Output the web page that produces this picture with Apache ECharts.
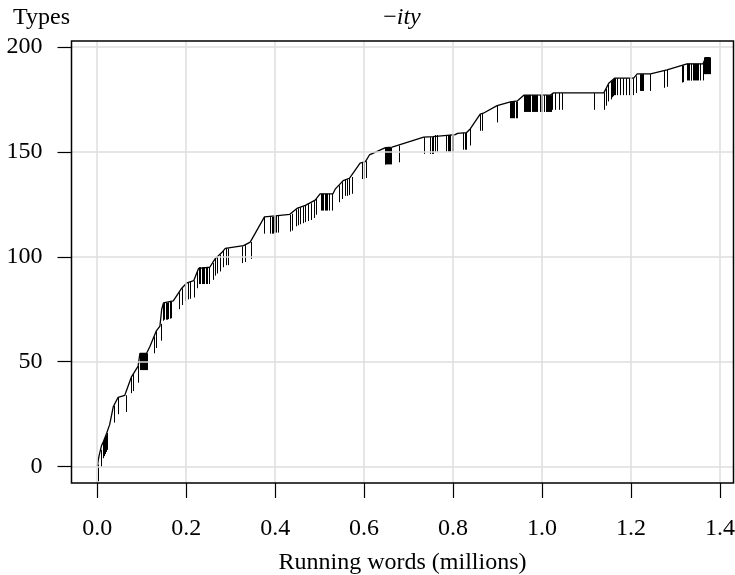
<!DOCTYPE html>
<html><head><meta charset="utf-8">
<script src="https://cdn.jsdelivr.net/npm/echarts@6/dist/echarts.min.js"></script>
<style>html,body{margin:0;padding:0;background:#fff}#c{width:735px;height:575px}</style>
</head><body><div id="c"></div>
<script>
// Vocabulary growth curve of -ity (types vs running words, millions)
const curveX = [0,0.004,0.0097,0.014,0.021,0.028,0.036,0.047,0.062,0.077,0.092,0.096,0.111,0.118,0.133,0.141,0.145,0.149,0.171,0.19,0.202,0.217,0.228,0.253,0.265,0.28,0.288,0.329,0.344,0.376,0.4,0.433,0.449,0.468,0.49,0.501,0.53,0.535,0.553,0.567,0.591,0.603,0.612,0.648,0.663,0.734,0.755,0.758,0.805,0.81,0.83,0.839,0.861,0.868,0.899,0.929,0.945,0.959,1.019,1.026,1.139,1.15,1.163,1.206,1.214,1.244,1.281,1.326,1.362,1.368,1.377];
const curveY = [0,5,10,12,15.8,20,28.5,33,34,42.8,47.9,54,54,57,64.7,67,75,78,79,85,87.6,88.6,94.5,95,99,102,104,105.3,107,119,119.5,120.2,123,124.5,127,130,130,132.2,136.3,137.4,144.6,145.3,148.5,152,152.2,157,157.2,158,158.2,158.8,159.1,161,168,168.4,172,173.8,174.3,177,177.1,178.1,178.1,182.7,185.1,185.1,187.1,187.1,189,191.9,191.9,194.9,194.9];

// rug marks hanging from the curve: position and top value
const tickX = [0.001,0.008,0.014,0.016,0.018,0.020,0.022,0.038,0.047,0.064,0.077,0.080,0.092,
 0.097,0.099,0.101,0.103,0.105,0.107,0.109,0.111,0.127,0.133,0.143,
 0.148,0.151,0.154,0.157,0.160,0.163,0.167,0.185,0.190,0.198,0.203,0.209,0.217,0.224,
 0.229,0.232,0.235,0.238,0.241,0.244,0.247,0.251,0.260,0.264,0.269,0.277,0.283,0.289,0.295,
 0.325,0.333,0.345,0.376,0.388,0.393,0.395,0.398,0.400,0.402,0.407,0.433,0.437,0.448,0.451,
 0.457,0.462,0.467,0.475,0.481,0.487,0.493,0.502,0.505,0.508,0.511,0.514,0.517,0.520,0.528,
 0.543,0.550,0.556,0.561,0.567,0.573,0.595,0.600,0.605,
 0.646,0.648,0.650,0.652,0.654,0.656,0.658,0.661,0.679,0.734,0.748,0.752,0.755,0.760,0.765,
 0.785,0.788,0.791,0.794,0.798,0.801,0.823,0.827,0.830,0.839,0.860,0.866,0.899,
 0.929,0.931,0.933,0.935,0.937,0.941,0.944,
 0.960,0.962,0.964,0.966,0.968,0.970,0.972,0.974,0.978,0.980,0.982,0.984,0.986,0.989,
 0.995,0.997,0.999,1.001,1.004,1.008,1.010,1.012,1.014,1.016,1.018,1.020,1.023,1.030,1.038,1.045,
 1.118,1.139,1.144,1.149,1.154,1.156,1.158,1.160,1.162,1.164,1.169,1.175,1.182,1.188,1.195,1.204,1.211,
 1.220,1.222,1.224,1.226,1.228,1.243,1.275,1.282,1.315,1.318,
 1.326,1.329,1.331,1.334,1.336,1.339,1.341,1.344,1.346,1.349,1.351,1.356,1.362,
 1.365,1.367,1.369,1.371,1.373,1.375,1.377];
const tickTop = [1,8,12,13,14,15,16,29,33,34,43,44,48,
 54,54,54,54,54,54,54,54,62,64.5,68,
 77.5,78,78,78,78.3,78.5,78.7,83,85,87,87.7,88,88.6,93,
 95,95,95,95,95,95,95,95,97,99,100,101,103,104,104,
 105,105.5,107,119,119,119,119,119.5,119.5,119.5,119.5,120,120.5,122.5,123,
 123.5,124,124.5,125,125.5,126.5,128,130,130,130,130,130,130,130,130,
 134,135.5,137,137,137.4,138,145,145,145.5,
 152,152,152,152,152,152,152,152,153,157,157,157,157,158,158,
 158,158,158,158,158,158,159,159,159,161,168,168,172,
 174,174,174,174,174,174,174,
 177,177,177,177,177,177,177,177,177,177,177,177,177,177,
 177,177,177,177,177,177,177,177,177,177,177,177,178,178,178,178,
 178,178,180,182,183,183.5,184,184.5,185,185,185,185,185,185,185,185,186,
 187,187,187,187,187,187,188.5,189,191,191.2,
 192,192,192,192,192,192,192,192,192,192,192,192,192,
 195,195,195,195,195,195,195];

const xTickValues = [0,0.2,0.4,0.6,0.8,1.0,1.2,1.4];
const yTickValues = [0,50,100,150,200];
const xLabel = 'Running words (millions)';
const yLabel = 'Types';
const titleText = '−ity';

const FONT = 'Liberation Serif';
const FS = 24;
const chart = echarts.init(document.getElementById('c'), null, {renderer:'canvas'});
const TICK_LEN = 8;
chart.setOption({
  animation:false,
  backgroundColor:'#fff',
  title:[
    {text: yLabel, left: 13, top: 6, padding:0, textStyle:{fontFamily:FONT, fontSize:FS, fontWeight:'normal', color:'#000'}},
    {text: '{a|' + titleText.charAt(0) + '}{b|' + titleText.slice(1) + '}', left: 402, top: 6, padding:0, textAlign:'center',
     textStyle:{fontWeight:'normal', rich:{a:{fontFamily:FONT,fontSize:FS,fontWeight:'normal',color:'#000'}, b:{fontFamily:FONT,fontSize:FS,fontWeight:'normal',fontStyle:'italic',color:'#000'}}}}
  ],
  grid:{left:71.5, right:1.5, top:41, bottom:92, show:true, borderColor:'#000', borderWidth:1.5, backgroundColor:'transparent', z:10, outerBoundsMode:'none', containLabel:false},
  xAxis:{type:'value', min:-0.0578, max:1.4305,
    name:xLabel, nameLocation:'middle', nameGap:68,
    nameTextStyle:{fontFamily:FONT, fontSize:FS, color:'#000'},
    axisLine:{show:false, onZero:false},
    axisTick:{show:true, customValues:xTickValues, length:15, inside:false, lineStyle:{color:'#000', width:1.2}},
    axisLabel:{customValues:xTickValues, formatter:v=>v.toFixed(1), fontFamily:FONT, fontSize:FS, color:'#000', margin:34},
    splitLine:{show:false}},
  yAxis:{type:'value', min:-7.8, max:202.8,
    axisLine:{show:false, onZero:false},
    axisTick:{show:true, customValues:yTickValues, length:14, inside:false, lineStyle:{color:'#000', width:1.2}},
    axisLabel:{customValues:yTickValues, formatter:v=>String(v), fontFamily:FONT, fontSize:FS, color:'#000', margin:29},
    splitLine:{show:false}},
  series:[
    {type:'line', data:[], z:1, silent:true,
     markLine:{silent:true, symbol:'none', label:{show:false}, animation:false,
       lineStyle:{color:'#dedede', type:'solid', width:1.5},
       data: xTickValues.map(v=>({xAxis:v})).concat(yTickValues.map(v=>({yAxis:v})))}},
    {type:'custom', z:3, silent:true,
     data: tickX.map((x,i)=>[x, tickTop[i]]),
     encode:{x:0, y:1},
     renderItem:(params, api)=>{
       const p1 = api.coord([api.value(0), api.value(1)]);
       const p2 = api.coord([api.value(0), api.value(1) - TICK_LEN]);
       return {type:'line', shape:{x1:Math.round(p1[0])+0.5, y1:p1[1], x2:Math.round(p2[0])+0.5, y2:p2[1]}, style:{stroke:'#000', lineWidth:1}};
     }},
    {type:'line', z:4, silent:true, showSymbol:false, symbol:'none',
     data: curveX.map((x,i)=>[x, curveY[i]]),
     lineStyle:{color:'#000', width:1.3}}
  ]
});
</script></body></html>
